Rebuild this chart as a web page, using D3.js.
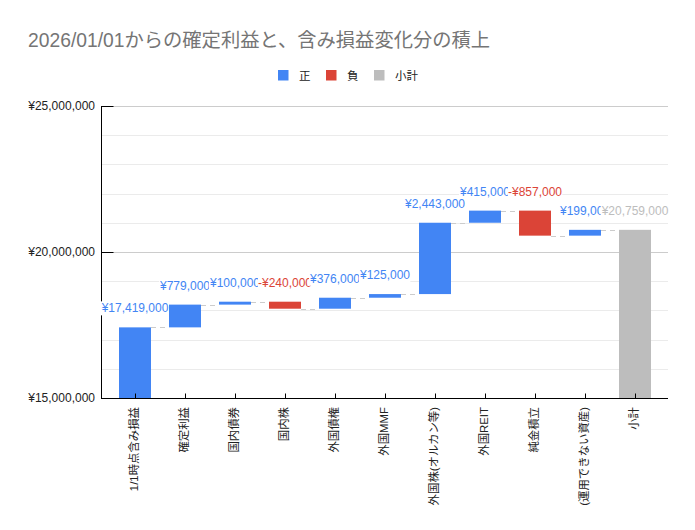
<!DOCTYPE html>
<html>
<head>
<meta charset="utf-8">
<script src="https://cdn.jsdelivr.net/npm/d3@7/dist/d3.min.js"></script>
<style>
  body { margin: 0; background: #fff; }
  svg { display: block; font-family: Arial, "Liberation Sans", "Noto Sans CJK JP", sans-serif; }
</style>
</head>
<body>
<svg id="chart" width="695" height="530"></svg>
<script>
// chart data
const categories = ['1/1時点含み損益', '確定利益', '国内債券', '国内株', '外国債権', '外国MMF',
  '外国株(オルカン等)', '外国REIT', '純金積立', '(運用できない資産)', '小計'];
const changes = [17419000, 779000, 100000, -240000, 376000, 125000, 2443000, 415000, -857000, 199000];
const legendLabels = ['正', '負', '小計'];
const yTicks = [15000000, 20000000, 25000000];
const title = '2026/01/01からの確定利益と、含み損益変化分の積上';

const colors = { pos: '#4285f4', neg: '#db4437', total: '#bdbdbd' };

// running totals -> bar rows
let running = 0;
const bars = changes.map((v, i) => {
  const start = running;
  running += v;
  return { name: categories[i], value: v, start: start, end: running, kind: v >= 0 ? 'pos' : 'neg' };
});
bars.push({ name: categories[categories.length - 1], value: running, start: 0, end: running, kind: 'total' });

const svg = d3.select('#chart');
const plot = { left: 101, right: 668, top: 106, bottom: 398 };

const y = d3.scaleLinear().domain([15000000, 25000000]).range([plot.bottom, plot.top]);
const x = d3.scaleBand().domain(categories).range([110, 660]).paddingInner(0.36).paddingOuter(0.18);

const yen = v => (v < 0 ? '-¥' : '¥') + d3.format(',')(Math.abs(v));

// title
svg.append('text')
  .attr('x', 28).attr('y', 47)
  .attr('fill', '#757575')
  .style('font-size', '19.3px')
  .text(title);

// legend
const legendX = [278, 326, 374];
legendLabels.forEach((l, i) => {
  const g = svg.append('g').attr('transform', `translate(${legendX[i]},70)`);
  g.append('rect').attr('width', 10.5).attr('height', 10.5).attr('fill', Object.values(colors)[i]);
  g.append('text').attr('x', 21).attr('y', 9.5).attr('fill', '#222').style('font-size', '11.5px').text(l);
});

// gridlines
const minor = d3.range(15000000, 25000001, 1000000);
svg.append('g').selectAll('line')
  .data(minor)
  .join('line')
  .attr('x1', plot.left).attr('x2', plot.right)
  .attr('y1', d => Math.round(y(d)) + 0.5).attr('y2', d => Math.round(y(d)) + 0.5)
  .attr('stroke', d => d % 5000000 === 0 ? '#cccccc' : '#ebebeb')
  .attr('stroke-width', 1);

// y axis
const yAxis = svg.append('g')
  .attr('transform', `translate(${plot.left + 0.5},0)`)
  .call(d3.axisRight(y).tickValues(yTicks).tickSize(12).tickFormat(''));
yAxis.select('.domain').remove();
yAxis.selectAll('line').attr('stroke', '#000');
svg.append('line')
  .attr('x1', plot.left + 0.5).attr('x2', plot.left + 0.5)
  .attr('y1', plot.top).attr('y2', plot.bottom)
  .attr('stroke', '#000');
svg.append('g').selectAll('text')
  .data(yTicks)
  .join('text')
  .attr('x', 95).attr('y', d => y(d)).attr('dy', '0.35em')
  .attr('text-anchor', 'end')
  .attr('fill', '#222')
  .style('font-size', '12px')
  .text(d => yen(d));

// connectors
svg.append('g').selectAll('line')
  .data(bars.slice(0, -1))
  .join('line')
  .attr('x1', d => x(d.name) + x.bandwidth())
  .attr('x2', (d, i) => x(bars[i + 1].name))
  .attr('y1', d => Math.round(y(d.end)) + 0.5)
  .attr('y2', d => Math.round(y(d.end)) + 0.5)
  .attr('stroke', '#cccccc')
  .attr('stroke-dasharray', '5,4');

// bars
svg.append('g').selectAll('rect')
  .data(bars)
  .join('rect')
  .attr('x', d => x(d.name))
  .attr('width', x.bandwidth())
  .attr('y', d => y(Math.max(d.start, d.end)))
  .attr('height', d => {
    const lo = Math.max(Math.min(d.start, d.end), 15000000);
    return y(lo) - y(Math.max(d.start, d.end));
  })
  .attr('fill', d => colors[d.kind]);

// x axis
const xAxis = svg.append('g')
  .attr('transform', `translate(0,${plot.bottom + 0.5})`);
xAxis.append('line')
  .attr('x1', plot.left).attr('x2', plot.right)
  .attr('stroke', '#000');
xAxis.selectAll('.tick')
  .data(categories)
  .join('line')
  .attr('x1', d => x(d) + x.bandwidth() / 2 + 0.5)
  .attr('x2', d => x(d) + x.bandwidth() / 2 + 0.5)
  .attr('y1', 0).attr('y2', -5)
  .attr('stroke', '#000');
svg.append('g').selectAll('text')
  .data(categories)
  .join('text')
  .attr('transform', d => `translate(${x(d) + x.bandwidth() / 2 - 1},407) rotate(-90)`)
  .attr('dy', '0.35em')
  .attr('text-anchor', 'end')
  .attr('fill', '#222')
  .style('font-size', '11.4px')
  .text(d => d);

// value labels (each on a white backing, drawn in order)
const labels = svg.append('g');
bars.forEach(d => {
  const cx = x(d.name) + x.bandwidth() / 2;
  const top = y(Math.max(d.start, d.end));
  const g = labels.append('g');
  const bg = g.append('rect').attr('fill', '#fff');
  const t = g.append('text')
    .attr('x', cx).attr('y', top - 15)
    .attr('text-anchor', 'middle')
    .attr('fill', colors[d.kind])
    .style('font-size', '12px')
    .text(yen(d.value));
  const bb = t.node().getBBox();
  bg.attr('x', bb.x).attr('y', bb.y).attr('width', bb.width).attr('height', bb.height);
});
</script>
</body>
</html>
